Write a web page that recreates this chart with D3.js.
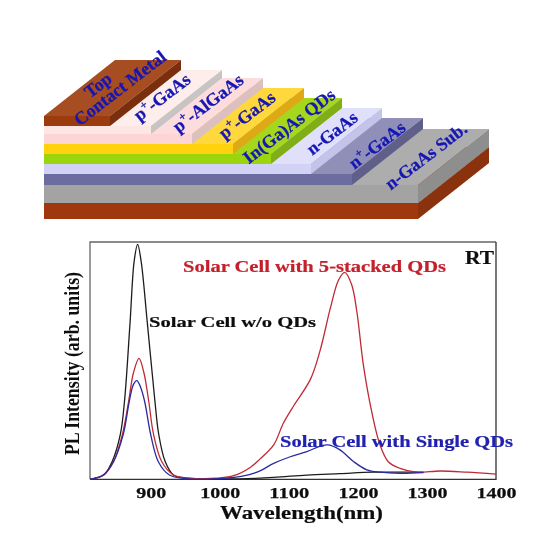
<!DOCTYPE html>
<html><head><meta charset="utf-8">
<script src="https://cdn.jsdelivr.net/npm/d3@7"></script>
<style>html,body{margin:0;padding:0;background:#fff}svg{display:block;font-family:"Liberation Serif",serif}</style>
</head><body><svg id="c" width="544" height="544"></svg>
<script>
// PL spectra
const blackNm=[812,832,844,856,862,870,876,881,886,895,906,911.5,921,933,945,965,1000,1029,1078,1126,1174,1222,1271,1295];
const blackPL=[0,1.8,7.4,19,33,66,92,99,92,66,33,19,7.4,1.8,0.8,0.3,0.2,0.2,0.8,1.8,2.4,3,3,3];
const redNm=[812,832,846,859,868,875,883,890,897,904,916,933,950,975,996,1020,1044,1058,1078,1092,1107,1131,1145,1160,1172,1181,1191,1198.5,1208,1220,1232,1244,1261,1285,1319,1358,1400];
const redPL=[0,1.8,7.4,19,33,45,51,45,33,19,7.4,1.8,0.6,0.3,0.5,1.5,5,8.5,14.5,23.6,31,42,54,72,84,87.2,82,70.6,48,28.5,14.5,7.4,4.6,3,3.5,3,2.2];
const blueNm=[812,831,846,860,869,875,880,885,891,900,911,927,950,1000,1029,1054,1078,1102,1126,1148,1157,1174,1194,1213,1232,1261,1295];
const bluePL=[0,1.8,7.4,18.7,33,40,41.6,39,33,18.7,7.4,1.8,0.3,0.3,1.1,3,6.7,9.5,11.7,14.2,14.5,12.4,7.4,4,3,2.5,2.8];
const xTicks=[900,1000,1100,1200,1300,1400];
// Layer schematic
const layerNames=["Substrate","n-GaAs Sub.","n+-GaAs","n-GaAs","In(Ga)As QDs","p+-GaAs","p+-AlGaAs","p+-GaAs cap","Top Contact Metal"];
const layerFront=["#a0380a","#a3a3a3","#6c6c9e","#d2d2f6","#9bd50c","#ffd20a","#fdd5d5","#fde6e4","#9c3a0e"];
const layerTop=["#a0380a","#adadad","#8f8fb8","#e0e0fb","#a5d81e","#ffd83c","#fcdcdc","#fdeeec","#a64d20"];
const layerSide=["#8a3208","#8e8e8e","#5e5e8a","#c4c4ea","#7fae14","#dfa812","#dcc0c0","#c8c4c4","#7a2d08"];
const layerThick=[16,18,11,10,10,10,10,8,10];
const layerWidth=[374,374,308,267,227,189,148,107,66];
const labelText=[["n-GaAs Sub.",""],["n","+","-GaAs"],["n-GaAs"],["In(Ga)As QDs"],["p","+","-GaAs"],["p","+","-AlGaAs"],["p","+","-GaAs"],["Top"],["Contact Metal"]];

const svg=d3.select("#c");
const defs=svg.append("defs");
defs.append("filter").attr("id","soft").append("feGaussianBlur").attr("stdDeviation",0.35);
const root=svg.append("g").attr("filter","url(#soft)");

// schematic: oblique projection through scales
const sx=d3.scaleLinear().domain([0,374]).range([44,418]);
const sy=d3.scaleLinear().domain([0,103]).range([219,116]);
const depthX=d3.scaleLinear().domain([0,1]).range([0,71]);
const depthY=d3.scaleLinear().domain([0,1]).range([0,-56]);
const g1=root.append("g");
let h=0;
layerNames.forEach((n,i)=>{
  const b=h,t=h+layerThick[i];h=t;
  const L=sx(0),R=sx(layerWidth[i]),T=sy(t),B=sy(b),dx=depthX(1),dy=depthY(1);
  const P=p=>p.map(q=>q.join(",")).join(" ");
  g1.append("polygon").attr("points",P([[L,T],[R,T],[R+dx,T+dy],[L+dx,T+dy]])).attr("fill",layerTop[i]);
  g1.append("polygon").attr("points",P([[R,T],[R,B],[R+dx,B+dy],[R+dx,T+dy]])).attr("fill",layerSide[i]);
  g1.append("rect").attr("x",L).attr("y",T).attr("width",R-L).attr("height",B-T).attr("fill",layerFront[i]);
});
const labelCx=[426,377,332,289,247,208,162,98,120];
const labelCy=[156,145,133,126,115,103,97,85,88];
const gl=root.append("g").attr("fill","#1414b4").attr("stroke","#1414b4").attr("stroke-width",0.25).attr("font-weight","bold").attr("font-size",18);
labelText.forEach((parts,i)=>{
  const t=gl.append("text").attr("text-anchor","middle").attr("dominant-baseline","central")
    .attr("transform",`translate(${labelCx[i]},${labelCy[i]}) rotate(-37.5)`);
  if(parts.length===3){
    t.append("tspan").text(parts[0]);
    t.append("tspan").attr("font-size",12).attr("dy",-5).text(parts[1]);
    t.append("tspan").attr("dy",5).text(parts[2]);
  } else t.text(parts[0]);
});

// chart
const x=d3.scaleLinear().domain([812,1400]).range([90,496]);
const y=d3.scaleLinear().domain([0,100]).range([479.3,242]);
const line=d3.line().x(d=>x(d[0])).y(d=>y(d[1])).curve(d3.curveCatmullRom.alpha(0.5));
const g2=root.append("g");
g2.append("path").attr("d",`M${x.range()[0]},${y.range()[0]}V${y.range()[1]}H${x.range()[1]}`).attr("fill","none").attr("stroke","#666").attr("stroke-width",1.3);
g2.append("path").attr("d",`M${x.range()[0]},${y.range()[0]}H${x.range()[1]}V${y.range()[1]}`).attr("fill","none").attr("stroke","#333").attr("stroke-width",1.3);
const series=[[blackNm,blackPL,"#1c1c1c"],[redNm,redPL,"#c02a35"],[blueNm,bluePL,"#2a2aa0"]];
series.forEach(([a,b,c])=>g2.append("path").datum(a.map((v,i)=>[v,b[i]])).attr("d",line).attr("fill","none").attr("stroke",c).attr("stroke-width",1.3));
const ax=g2.append("g").attr("transform",`translate(0,${y(0)})`).call(d3.axisBottom(x).tickValues(xTicks).tickSize(0).tickFormat(d3.format("d")));
ax.select(".domain").remove();
ax.selectAll("text").attr("y",8).attr("dy","0.71em").attr("fill","#111").attr("stroke","#111").attr("stroke-width",0.25).attr("font-family","Liberation Serif").attr("font-weight","bold").attr("font-size",15).attr("text-anchor","middle")
  .each(function(d){const w=d<1000?30:40;d3.select(this).attr("textLength",w).attr("lengthAdjust","spacingAndGlyphs")});
const txt=(s,xx,yy,len,size,fill)=>g2.append("text").attr("x",xx).attr("y",yy).attr("font-weight","bold").attr("font-size",size).attr("fill",fill).attr("stroke",fill).attr("stroke-width",0.2).attr("textLength",len).attr("lengthAdjust","spacingAndGlyphs").text(s);
txt("Wavelength(nm)",220,519,163,18,"#111");
txt("Solar Cell with 5-stacked QDs",183,272,263,16,"#c4202c");
txt("Solar Cell w/o QDs",149,327,167,15.5,"#111");
txt("Solar Cell with Single QDs",280,447,233,16,"#2020b0");
txt("RT",465,264,29,18,"#111");
g2.append("text").attr("transform","translate(79,455) rotate(-90)").attr("font-weight","bold").attr("font-size",21).attr("fill","#111").attr("textLength",183).attr("lengthAdjust","spacingAndGlyphs").text("PL Intensity (arb. units)");
</script></body></html>
